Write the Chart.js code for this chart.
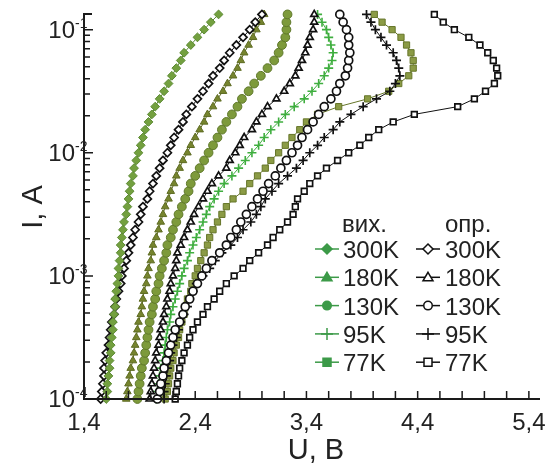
<!DOCTYPE html>
<html>
<head>
<meta charset="utf-8">
<script src="https://cdn.jsdelivr.net/npm/chart.js@4.4.0/dist/chart.umd.min.js"></script>
<style>
  html, body { margin: 0; padding: 0; background: #fff; }
  #wrap { width: 551px; height: 466px; position: relative; }
</style>
</head>
<body>
<div id="wrap"><canvas id="chart"></canvas></div>
<script>
// current levels, A (shared by all curves)
const currentA = [
  1.00e-4, 1.15e-4, 1.33e-4, 1.54e-4, 1.78e-4, 2.05e-4, 2.37e-4, 2.74e-4, 3.16e-4, 3.65e-4, 4.22e-4, 4.87e-4, 5.62e-4, 6.49e-4, 7.50e-4, 8.66e-4,
  1.00e-3, 1.15e-3, 1.33e-3, 1.54e-3, 1.78e-3, 2.05e-3, 2.37e-3, 2.74e-3, 3.16e-3, 3.65e-3, 4.22e-3, 4.87e-3, 5.62e-3, 6.49e-3, 7.50e-3, 8.66e-3,
  1.00e-2, 1.15e-2, 1.33e-2, 1.54e-2, 1.78e-2, 2.05e-2, 2.37e-2, 2.74e-2, 3.16e-2, 3.65e-2, 4.22e-2, 4.87e-2, 5.62e-2, 6.49e-2, 7.50e-2, 8.66e-2,
  1.00e-1, 1.15e-1, 1.33e-1
];

// voltage, V  (вих. = output, опр. = irradiated)
const u300out = [1.60,1.61,1.61,1.62,1.63,1.63,1.64,1.64,1.65,1.66,1.66,1.67,1.68,1.68,1.69,1.70,1.71,1.71,1.72,1.73,1.73,1.74,1.75,1.76,1.78,1.79,1.80,1.81,1.82,1.84,1.85,1.87,1.89,1.91,1.93,1.95,1.98,2.01,2.04,2.08,2.12,2.16,2.19,2.23,2.27,2.30,2.36,2.42,2.48,2.54,2.61];
const u300irr = [1.55,1.56,1.57,1.58,1.58,1.59,1.60,1.62,1.63,1.64,1.65,1.67,1.68,1.69,1.71,1.73,1.74,1.76,1.78,1.80,1.82,1.84,1.86,1.89,1.91,1.93,1.97,1.99,2.02,2.05,2.08,2.11,2.15,2.18,2.21,2.25,2.29,2.32,2.37,2.42,2.47,2.52,2.56,2.62,2.66,2.71,2.77,2.83,2.89,2.94,3.00];
const u180out = [1.78,1.79,1.80,1.81,1.82,1.84,1.85,1.86,1.87,1.88,1.89,1.91,1.92,1.93,1.94,1.96,1.97,1.98,2.00,2.01,2.02,2.05,2.07,2.09,2.11,2.13,2.16,2.18,2.21,2.23,2.26,2.29,2.33,2.36,2.40,2.44,2.48,2.51,2.56,2.60,2.65,2.69,2.74,2.78,2.81,2.84,2.88,2.92,2.95,2.99,3.02];
const u180irr = [1.99,2.00,2.01,2.02,2.03,2.04,2.05,2.07,2.08,2.09,2.11,2.12,2.14,2.15,2.17,2.18,2.20,2.22,2.23,2.24,2.27,2.30,2.33,2.36,2.39,2.43,2.47,2.51,2.55,2.61,2.68,2.71,2.76,2.80,2.84,2.91,2.95,3.00,3.05,3.13,3.20,3.25,3.30,3.33,3.36,3.39,3.41,3.43,3.46,3.47,3.47];
const u130out = [1.88,1.89,1.90,1.91,1.92,1.94,1.95,1.96,1.97,1.98,1.99,2.01,2.02,2.04,2.05,2.07,2.08,2.10,2.12,2.14,2.15,2.18,2.20,2.23,2.25,2.28,2.31,2.34,2.36,2.40,2.44,2.48,2.52,2.56,2.60,2.64,2.68,2.73,2.78,2.82,2.88,2.93,2.99,3.05,3.11,3.15,3.18,3.21,3.22,3.22,3.23];
const u130irr = [2.06,2.08,2.09,2.11,2.12,2.14,2.16,2.18,2.20,2.22,2.26,2.29,2.31,2.35,2.38,2.42,2.46,2.50,2.55,2.62,2.68,2.72,2.77,2.81,2.86,2.91,2.96,3.01,3.06,3.12,3.17,3.22,3.27,3.32,3.36,3.41,3.46,3.51,3.56,3.62,3.67,3.70,3.75,3.77,3.78,3.79,3.78,3.78,3.76,3.73,3.70];
const u95out  = [2.05,2.06,2.07,2.08,2.09,2.11,2.12,2.13,2.14,2.15,2.17,2.18,2.20,2.22,2.24,2.26,2.28,2.30,2.33,2.35,2.38,2.41,2.44,2.47,2.50,2.53,2.57,2.61,2.66,2.73,2.79,2.85,2.91,2.97,3.02,3.08,3.15,3.21,3.29,3.38,3.45,3.51,3.56,3.60,3.63,3.64,3.62,3.60,3.58,3.54,3.50];
const u95irr  = [2.12,2.12,2.13,2.14,2.15,2.17,2.18,2.20,2.23,2.25,2.27,2.30,2.33,2.35,2.38,2.41,2.47,2.53,2.58,2.64,2.72,2.78,2.83,2.90,2.95,2.99,3.03,3.09,3.15,3.23,3.31,3.37,3.43,3.50,3.56,3.64,3.70,3.80,3.91,4.03,4.15,4.20,4.24,4.23,4.21,4.18,4.12,4.07,4.02,3.98,3.94];
const u77out  = [2.13,2.15,2.16,2.17,2.18,2.20,2.21,2.23,2.25,2.26,2.28,2.30,2.31,2.33,2.36,2.37,2.40,2.42,2.45,2.48,2.51,2.53,2.56,2.60,2.64,2.68,2.74,2.83,2.89,2.96,3.03,3.08,3.15,3.21,3.27,3.34,3.40,3.50,3.69,3.95,4.14,4.23,4.32,4.36,4.36,4.34,4.30,4.25,4.17,4.08,4.01];
const u77irr  = [2.22,2.23,2.24,2.25,2.26,2.28,2.30,2.33,2.35,2.38,2.42,2.47,2.51,2.57,2.62,2.68,2.75,2.83,2.89,2.97,3.05,3.10,3.16,3.23,3.28,3.30,3.32,3.38,3.43,3.50,3.58,3.68,3.78,3.88,3.96,4.05,4.18,4.37,4.76,4.91,5.01,5.09,5.12,5.11,5.08,5.03,4.96,4.86,4.73,4.63,4.55];

const temps = ['300K', '180K', '130K', '95K', '77K'];
const xTickLabels = ['1,4', '2,4', '3,4', '4,4', '5,4'];
const yTickExp = ['-4', '-3', '-2', '-1'];

const FONT = '"Liberation Sans", Arial, Helvetica, sans-serif';
const styles = ['rectRot', 'triangle', 'circle', 'cross', 'rect'];
const outFill = ['#73a03f', '#76842e', '#7d9a3b', '#4cbc4c', '#8b9b45'];
const outEdge = ['#5c8a33', '#5d6b22', '#5f782a', '#3fae3f', '#66762a'];
const legendGreen = '#3c9a48';

const toPts = (u) => u.map((v, i) => ({ x: v, y: currentA[i] }));

function outSet(u, k){
  return {
    label: temps[k] + ' вих.', data: toPts(u), showLine: true,
    borderColor: outEdge[k], borderWidth: 1,
    pointStyle: styles[k], pointRadius: k === 3 ? 4.5 : 4.4, pointBorderWidth: k === 3 ? 1.6 : 1,
    pointBackgroundColor: outFill[k], pointBorderColor: outEdge[k], clip: false
  };
}
function irrSet(u, k){
  return {
    label: temps[k] + ' опр.', data: toPts(u), showLine: true,
    borderColor: '#111', borderWidth: 1,
    pointStyle: styles[k], pointRadius: k === 3 ? 4.5 : 4, pointBorderWidth: 1.7,
    pointBackgroundColor: '#fff', pointBorderColor: '#111', clip: false
  };
}

function marker(ctx, style, x, y, r, fill, stroke, lw){
  ctx.beginPath();
  if (style === 'rectRot') { ctx.moveTo(x, y - r); ctx.lineTo(x + r, y); ctx.lineTo(x, y + r); ctx.lineTo(x - r, y); ctx.closePath(); }
  else if (style === 'triangle') { ctx.moveTo(x, y - r); ctx.lineTo(x + r, y + r * 0.7); ctx.lineTo(x - r, y + r * 0.7); ctx.closePath(); }
  else if (style === 'circle') { ctx.arc(x, y, r * 0.85, 0, Math.PI * 2); }
  else if (style === 'rect') { ctx.rect(x - r * 0.8, y - r * 0.8, r * 1.6, r * 1.6); }
  else { ctx.moveTo(x - r, y); ctx.lineTo(x + r, y); ctx.moveTo(x, y - r); ctx.lineTo(x, y + r); }
  if (style !== 'cross' && fill) { ctx.fillStyle = fill; ctx.fill(); }
  ctx.strokeStyle = stroke; ctx.lineWidth = lw; ctx.stroke();
}

const decorPlugin = {
  id: 'decor',
  afterDraw(chart){
    const { ctx, chartArea: a, scales: { x, y } } = chart;
    ctx.save();
    // axes
    ctx.strokeStyle = '#1a1a1a';
    ctx.lineWidth = 2;
    ctx.beginPath();
    ctx.moveTo(a.left + 8, a.top); ctx.lineTo(a.left, a.top);
    ctx.lineTo(a.left, a.bottom); ctx.lineTo(a.right, a.bottom);
    ctx.stroke();
    ctx.lineWidth = 1.5;
    ctx.beginPath();
    for (let i = 0; i <= 20; i++) {
      const px = x.getPixelForValue(1.4 + i * 0.2);
      ctx.moveTo(px, a.bottom); ctx.lineTo(px, a.bottom - 8);
    }
    for (let d = -4; d <= -1; d++) {
      for (let m = 1; m <= 9; m++) {
        const v = m * Math.pow(10, d);
        if (v > y.max) break;
        const py = y.getPixelForValue(v);
        ctx.moveTo(a.left, py); ctx.lineTo(a.left + (m === 1 ? 9 : 6), py);
      }
    }
    ctx.stroke();

    // tick labels
    ctx.fillStyle = '#222';
    ctx.font = '24px ' + FONT;
    ctx.textAlign = 'center'; ctx.textBaseline = 'alphabetic';
    xTickLabels.forEach((t, i) => ctx.fillText(t, x.getPixelForValue(1.4 + i), 430));
    yTickExp.forEach((e, i) => {
      const py = y.getPixelForValue(Math.pow(10, i - 4));
      ctx.font = '24px ' + FONT; ctx.textAlign = 'right';
      ctx.fillText('10', 75, py + 8);
      ctx.font = '14px ' + FONT; ctx.textAlign = 'left';
      ctx.fillText(e, 75, py - 2);
    });

    // axis titles
    ctx.font = '29px ' + FONT;
    ctx.textAlign = 'center';
    ctx.fillText('U, B', 316, 459);
    ctx.save();
    ctx.translate(42, 207); ctx.rotate(-Math.PI / 2);
    ctx.fillText('I, A', 0, 0);
    ctx.restore();

    // legend
    ctx.font = '24px ' + FONT;
    ctx.textAlign = 'left';
    ctx.fillText('вих.', 342, 232);
    ctx.fillText('опр.', 445, 232);
    temps.forEach((t, k) => {
      const cy = 249 + k * 28.3;
      ctx.lineWidth = 1.5;
      ctx.strokeStyle = legendGreen;
      ctx.beginPath(); ctx.moveTo(315, cy); ctx.lineTo(339, cy); ctx.stroke();
      marker(ctx, styles[k], 327, cy, k === 3 ? 6 : 5, legendGreen, legendGreen, 1.5);
      ctx.strokeStyle = '#111';
      ctx.beginPath(); ctx.moveTo(416, cy); ctx.lineTo(440, cy); ctx.stroke();
      marker(ctx, styles[k], 428, cy, k === 3 ? 6 : 5, '#fff', '#111', 1.5);
      ctx.fillStyle = '#222';
      ctx.fillText(t, 343, cy + 9);
      ctx.fillText(t, 445, cy + 9);
    });
    ctx.restore();
  }
};

new Chart(document.getElementById('chart'), {
  type: 'scatter',
  data: {
    datasets: [
      outSet(u300out, 0), irrSet(u300irr, 0),
      outSet(u180out, 1), irrSet(u180irr, 1),
      outSet(u130out, 2), irrSet(u130irr, 2),
      outSet(u95out, 3), irrSet(u95irr, 3),
      outSet(u77out, 4), irrSet(u77irr, 4)
    ]
  },
  options: {
    responsive: true, maintainAspectRatio: false, animation: false,
    layout: { padding: { left: 84, right: 11, top: 14, bottom: 67 } },
    plugins: { legend: { display: false }, tooltip: { enabled: false } },
    scales: {
      x: { type: 'linear', min: 1.4, max: 5.5, display: false },
      y: { type: 'logarithmic', min: 1e-4, max: 0.134, display: false }
    }
  },
  plugins: [decorPlugin]
});
</script>
</body>
</html>
